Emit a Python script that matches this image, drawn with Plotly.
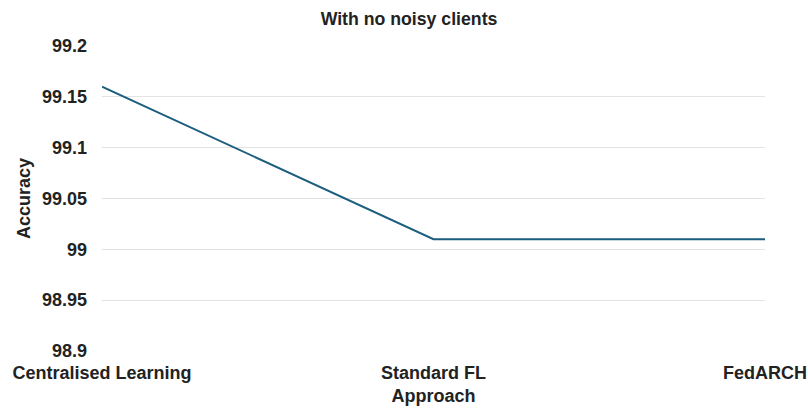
import plotly.graph_objects as go

approaches = ["Centralised Learning", "Standard FL", "FedARCH"]
accuracy = [99.16, 99.01, 99.01]
y_ticks = [98.9, 98.95, 99.0, 99.05, 99.1, 99.15, 99.2]
y_tick_text = ["98.9", "98.95", "99", "99.05", "99.1", "99.15", "99.2"]

font_family = "Liberation Sans, Arial, sans-serif"
text_color = "#222222"

fig = go.Figure(
    go.Scatter(
        x=approaches,
        y=accuracy,
        mode="lines",
        line=dict(color="#1b5e7e", width=2),
        hoverinfo="x+y",
    )
)

fig.update_layout(
    width=808,
    height=408,
    margin=dict(l=102, r=43, t=46, b=57),
    paper_bgcolor="white",
    plot_bgcolor="white",
    showlegend=False,
    font=dict(family=font_family, color=text_color, size=18),
    title=dict(
        text="<b>With no noisy clients</b>",
        x=409 / 808,
        xanchor="center",
        y=1 - 19 / 408,
        yanchor="middle",
        font=dict(size=17.7, color=text_color),
    ),
)

fig.update_xaxes(
    type="category",
    range=[0, 2],
    automargin=False,
    showgrid=False,
    zeroline=False,
    showline=False,
    ticks="",
    tickfont=dict(size=18),
    tickprefix="<b>",
    ticksuffix="</b>",
    ticklabelstandoff=9,
    title=dict(text="<b>Approach</b>", font=dict(size=18), standoff=7),
)

fig.update_yaxes(
    range=[98.9, 99.2],
    automargin=False,
    tickvals=y_ticks,
    ticktext=[f"<b>{t}</b>" for t in y_tick_text],
    tickfont=dict(size=18),
    showgrid=True,
    gridcolor="#e3e3e3",
    gridwidth=1,
    zeroline=False,
    showline=False,
    ticks="",
    ticklabelstandoff=14,
    title=dict(text="<b>Accuracy</b>", font=dict(size=18), standoff=6),
)

fig.write_html("out.html")
